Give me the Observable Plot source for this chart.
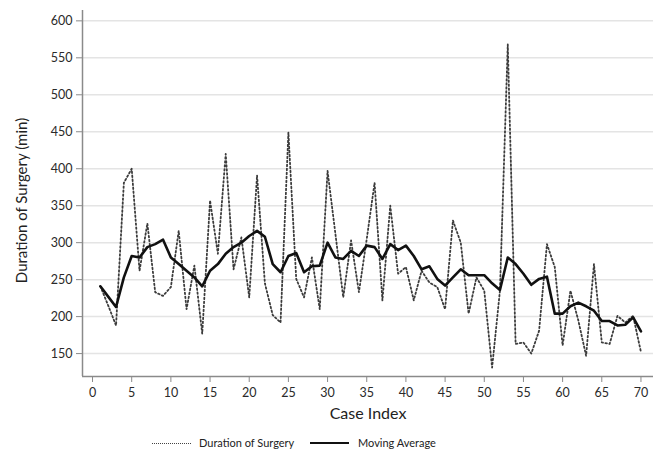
<!DOCTYPE html>
<html><head><meta charset="utf-8">
<script src="https://cdn.jsdelivr.net/npm/d3@7"></script>
<script src="https://cdn.jsdelivr.net/npm/@observablehq/plot@0.6"></script>
<style>
body{margin:0;background:#fff;font-family:Lato,"Open Sans",sans-serif;}
#wrap{position:relative;width:656px;height:457px;}
#legend{position:absolute;left:0;top:434px;width:656px;height:18px;font-size:11px;color:#222;}
.sw{position:absolute;top:9px;width:39px;}
.lab{position:absolute;top:0;line-height:18px;}
</style></head><body>
<div id="wrap">
<div id="chart"></div>
<div id="legend">
  <div class="sw" style="left:152px;border-top:1.6px dotted #444;"></div>
  <div class="lab" style="left:199px;">Duration of Surgery</div>
  <div class="sw" style="left:310px;top:8px;border-top:2.5px solid #111;"></div>
  <div class="lab" style="left:358px;">Moving Average</div>
</div>
</div>
<script>
const caseIndex = [1,2,3,4,5,6,7,8,9,10,11,12,13,14,15,16,17,18,19,20,21,22,23,24,25,26,27,28,29,30,31,32,33,34,35,36,37,38,39,40,41,42,43,44,45,46,47,48,49,50,51,52,53,54,55,56,57,58,59,60,61,62,63,64,65,66,67,68,69,70];
const duration = [241,215,188,381,400,262,326,233,228,240,316,210,269,177,357,285,420,264,307,226,391,245,202,192,449,251,226,280,210,397,312,226,303,233,305,381,222,350,258,267,222,262,246,240,210,330,300,204,253,235,131,235,568,163,165,150,181,298,267,161,235,195,147,271,165,163,201,192,201,152];
const movingAvg = [241,227,213,253,282,280,294,298,304,280,271,262,253,241,262,271,285,294,300,309,316,308,271,260,282,286,260,268,269,300,280,278,289,282,296,294,278,298,290,296,282,264,268,251,242,253,264,256,256,256,245,236,280,271,258,243,251,254,204,204,214,219,214,208,194,194,188,189,199,180];
const xTicks = [0,5,10,15,20,25,30,35,40,45,50,55,60,65,70];
const yTicks = [150,200,250,300,350,400,450,500,550,600];
const xLabel = "Case Index";
const yLabel = "Duration of Surgery (min)";

const rows = caseIndex.map((c, i) => ({c, d: duration[i], m: movingAvg[i]}));
const xMin = -1.28, yMin = 119;

const chart = Plot.plot({
  width: 656, height: 428,
  marginTop: 10, marginLeft: 82, marginRight: 3, marginBottom: 52,
  style: {fontFamily: "Lato, 'Open Sans', sans-serif", fontSize: "12.5px", color: "#2a2a2a", background: "#fff"},
  x: {domain: [xMin, 71.6]},
  y: {domain: [yMin, 614]},
  marks: [
    Plot.gridY(yTicks, {stroke: "#e4e4e4", strokeOpacity: 1, strokeWidth: 1.5}),
    Plot.ruleY([yMin], {stroke: "#8a8a8a", strokeWidth: 1.5}),
    Plot.ruleX([xMin], {stroke: "#8a8a8a", strokeWidth: 1.5}),
    Plot.axisY(yTicks, {tickSize: 6, tickPadding: 4, stroke: "#8a8a8a", label: null}),
    Plot.axisX(xTicks, {tickSize: 6, tickPadding: 6, stroke: "#8a8a8a", label: null}),
    Plot.lineY(rows, {x: "c", y: "d", stroke: "#3c3c3c", strokeWidth: 1.8, strokeDasharray: "1.6 2.4"}),
    Plot.lineY(rows, {x: "c", y: "m", stroke: "#111", strokeWidth: 2.6, strokeLinejoin: "round"}),
    Plot.text([xLabel], {text: d => d, frameAnchor: "bottom", dy: 42, fontSize: 16, fill: "#222"}),
    Plot.text([yLabel], {text: d => d, frameAnchor: "left", textAnchor: "middle", rotate: -90, dx: -60, dy: 7, fontSize: 15, fill: "#222"})
  ]
});
document.getElementById("chart").appendChild(chart);
</script>
</body></html>
